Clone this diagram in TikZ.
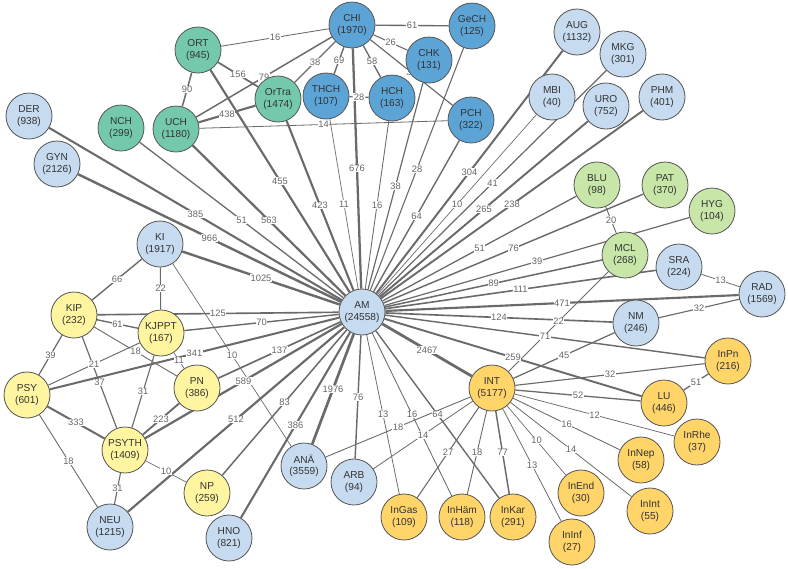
\documentclass[tikz,border=0pt]{standalone}
\usepackage{fontspec}
\setmainfont{Liberation Sans}
\pgfdeclarelayer{bglayer}
\pgfdeclarelayer{edgelayer}
\pgfdeclarelayer{lablayer}
\pgfsetlayers{bglayer,edgelayer,lablayer,main}
\definecolor{lblue}{HTML}{C6DBF0}
\definecolor{dblue}{HTML}{5DA4D6}
\definecolor{teal}{HTML}{74C9AD}
\definecolor{lgreen}{HTML}{C7E6A8}
\definecolor{lyellow}{HTML}{FFF5A0}
\definecolor{orng}{HTML}{FFD469}
\definecolor{ndborder}{HTML}{555555}
\definecolor{ntext}{HTML}{333333}
\definecolor{egray}{HTML}{6A6A6A}
\definecolor{labgray}{HTML}{666666}
\tikzset{
  nd/.style={circle, draw=ndborder, line width=0.6pt, minimum size=34.5pt, inner sep=0pt,
    align=center, font=\fontsize{7.6}{8.6}\selectfont, text=ntext},
  nlb/.style={nd, fill=lblue},
  ndb/.style={nd, fill=dblue},
  nte/.style={nd, fill=teal},
  nlg/.style={nd, fill=lgreen},
  nly/.style={nd, fill=lyellow},
  nor/.style={nd, fill=orng},
  elab/.style={fill=white, inner sep=0.4pt, font=\fontsize{7}{7}\selectfont, text=labgray},
  eline/.style={draw=egray},
}
\newcommand\E[4]{%
  \begin{pgfonlayer}{edgelayer}\draw[eline, line width={max(0.35,(0.285*ln(#3)-0.15))*1pt}] (#1) -- (#2);\end{pgfonlayer}%
  \begin{pgfonlayer}{lablayer}\path (#1) -- node[elab]{#4} (#2);\end{pgfonlayer}}
\begin{document}
\begin{tikzpicture}[x=0.75pt,y=-0.75pt]
\begin{pgfonlayer}{bglayer}
\fill[white] (0,0) rectangle (788,568);
\end{pgfonlayer}
\useasboundingbox (0,0) rectangle (788,568);
% nodes
\node[nlb] (AM) at (362,312) {AM\\(24558)};
\node[ndb] (CHI) at (352,25) {CHI\\(1970)};
\node[ndb] (GeCH) at (472,26) {GeCH\\(125)};
\node[ndb] (CHK) at (429,60) {CHK\\(131)};
\node[ndb] (THCH) at (326,96) {THCH\\(107)};
\node[ndb] (HCH) at (392,98) {HCH\\(163)};
\node[ndb] (PCH) at (471,120) {PCH\\(322)};
\node[nte] (ORT) at (198,50) {ORT\\(945)};
\node[nte] (OrTra) at (278,99) {OrTra\\(1474)};
\node[nte] (UCH) at (176,129) {UCH\\(1180)};
\node[nte] (NCH) at (121,128) {NCH\\(299)};
\node[nlb] (DER) at (29,116) {DER\\(938)};
\node[nlb] (GYN) at (57,164) {GYN\\(2126)};
\node[nlb] (AUG) at (577,32) {AUG\\(1132)};
\node[nlb] (MKG) at (623,54) {MKG\\(301)};
\node[nlb] (MBI) at (552,97) {MBI\\(40)};
\node[nlb] (URO) at (606,106) {URO\\(752)};
\node[nlb] (PHM) at (662,97) {PHM\\(401)};
\node[nlg] (BLU) at (597,185) {BLU\\(98)};
\node[nlg] (PAT) at (665,185) {PAT\\(370)};
\node[nlg] (HYG) at (712,211) {HYG\\(104)};
\node[nlg] (MCL) at (625,255) {MCL\\(268)};
\node[nlb] (SRA) at (679,267) {SRA\\(224)};
\node[nlb] (RAD) at (762,294) {RAD\\(1569)};
\node[nlb] (NM) at (636,323) {NM\\(246)};
\node[nor] (InPn) at (728,361) {InPn\\(216)};
\node[nor] (LU) at (664,403) {LU\\(446)};
\node[nor] (InRhe) at (697,442) {InRhe\\(37)};
\node[nor] (InNep) at (641,460) {InNep\\(58)};
\node[nor] (InEnd) at (581,493) {InEnd\\(30)};
\node[nor] (InInt) at (650,511) {InInt\\(55)};
\node[nor] (InInf) at (572,542) {InInf\\(27)};
\node[nor] (InKar) at (513,517) {InKar\\(291)};
\node[nor] (InHam) at (462,517) {InHäm\\(118)};
\node[nor] (InGas) at (404,517) {InGas\\(109)};
\node[nlb] (ARB) at (354,482) {ARB\\(94)};
\node[nlb] (ANA) at (304,466) {ANÄ\\(3559)};
\node[nor] (INT) at (492,388) {INT\\(5177)};
\node[nlb] (KI) at (160,244) {KI\\(1917)};
\node[nly] (KIP) at (74,315) {KIP\\(232)};
\node[nly] (KJPPT) at (161,333) {KJPPT\\(167)};
\node[nly] (PN) at (197,388) {PN\\(386)};
\node[nly] (PSY) at (27,395) {PSY\\(601)};
\node[nly] (PSYTH) at (125,450) {PSYTH\\(1409)};
\node[nly] (NP) at (207,493) {NP\\(259)};
\node[nlb] (NEU) at (110,527) {NEU\\(1215)};
\node[nlb] (HNO) at (229,538) {HNO\\(821)};
% edges from AM
\E{AM}{DER}{385}{385}
\E{AM}{GYN}{966}{966}
\E{AM}{NCH}{51}{51}
\E{AM}{UCH}{563}{563}
\E{AM}{ORT}{455}{455}
\E{AM}{OrTra}{423}{423}
\E{AM}{THCH}{11}{11}
\E{AM}{CHI}{676}{676}
\E{AM}{HCH}{16}{16}
\E{AM}{CHK}{38}{38}
\E{AM}{GeCH}{28}{28}
\E{AM}{PCH}{64}{64}
\E{AM}{AUG}{304}{304}
\E{AM}{MBI}{10}{10}
\E{AM}{MKG}{41}{41}
\E{AM}{URO}{265}{265}
\E{AM}{PHM}{238}{238}
\E{AM}{BLU}{51}{51}
\E{AM}{PAT}{76}{76}
\E{AM}{HYG}{39}{39}
\E{AM}{MCL}{89}{89}
\E{AM}{SRA}{111}{111}
\E{AM}{RAD}{471}{471}
\E{AM}{NM}{124}{124}
\E{AM}{InPn}{71}{71}
\E{AM}{LU}{259}{259}
\E{AM}{INT}{2467}{2467}
\E{AM}{KI}{1025}{1025}
\E{AM}{KIP}{125}{125}
\E{AM}{KJPPT}{70}{70}
\E{AM}{PSY}{341}{341}
\E{AM}{PN}{137}{137}
\E{AM}{PSYTH}{589}{589}
\E{AM}{NEU}{512}{512}
\E{AM}{NP}{83}{83}
\E{AM}{HNO}{386}{386}
\E{AM}{ANA}{1976}{1976}
\E{AM}{ARB}{76}{76}
\E{AM}{InGas}{13}{13}
\E{AM}{InHam}{16}{16}
\E{AM}{InKar}{64}{64}
% surgery cluster
\E{ORT}{CHI}{16}{16}
\E{CHI}{GeCH}{61}{61}
\E{CHI}{CHK}{26}{26}
\E{CHI}{OrTra}{38}{38}
\E{CHI}{THCH}{69}{69}
\E{CHI}{HCH}{58}{58}
\E{CHI}{PCH}{35}{3\phantom{0}}
\E{UCH}{CHI}{79}{79}
\E{ORT}{OrTra}{156}{156}
\E{ORT}{UCH}{90}{90}
\E{UCH}{OrTra}{438}{438}
\E{UCH}{PCH}{14}{14}
\E{THCH}{HCH}{28}{28}
% psych cluster
\E{KI}{KIP}{66}{66}
\E{KI}{KJPPT}{22}{22}
\E{KI}{ANA}{10}{10}
\E{KIP}{KJPPT}{61}{61}
\E{KIP}{PN}{18}{18}
\E{PSY}{KJPPT}{21}{21}
\E{KIP}{PSYTH}{37}{37}
\E{KIP}{PSY}{39}{39}
\E{KJPPT}{PN}{11}{11}
\E{KJPPT}{PSYTH}{31}{31}
\E{PN}{PSYTH}{223}{223}
\E{PSY}{PSYTH}{333}{333}
\E{PSY}{NEU}{18}{18}
\E{PSYTH}{NEU}{31}{31}
\E{PSYTH}{NP}{10}{10}
% internal medicine cluster
\E{INT}{ANA}{18}{18}
\E{INT}{ARB}{14}{14}
\E{INT}{InGas}{27}{27}
\E{INT}{InHam}{18}{18}
\E{INT}{InKar}{77}{77}
\E{INT}{InInf}{13}{13}
\E{INT}{InEnd}{10}{10}
\E{INT}{InInt}{14}{14}
\E{INT}{InNep}{16}{16}
\E{INT}{InRhe}{12}{12}
\E{INT}{LU}{52}{52}
\E{InPn}{LU}{51}{51}
\E{INT}{InPn}{32}{32}
\E{INT}{NM}{45}{45}
\E{INT}{MCL}{22}{22}
\E{NM}{RAD}{32}{32}
\E{SRA}{RAD}{13}{13}
\E{BLU}{MCL}{20}{20}
\end{tikzpicture}
\end{document}
